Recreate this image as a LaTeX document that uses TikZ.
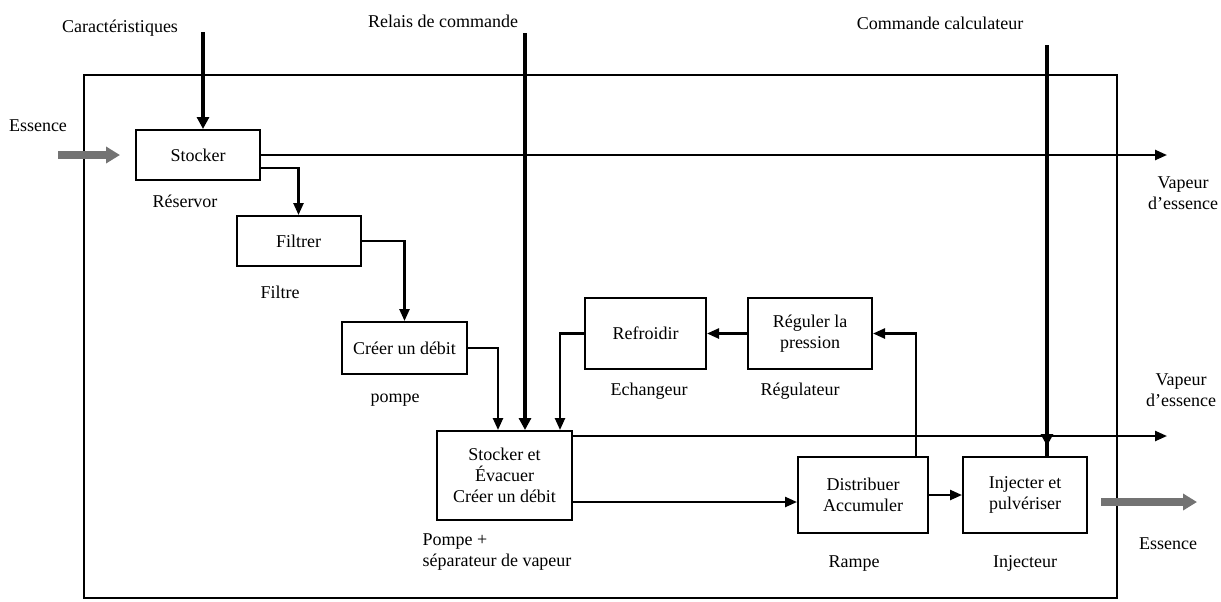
\documentclass[tikz,border=0pt]{standalone}
\usepackage{fontspec}
\setmainfont{Liberation Serif}
\usetikzlibrary{arrows.meta, positioning}

\begin{document}
\begin{tikzpicture}[
    x=0.5pt, y=-0.5pt,
    font=\fontsize{9}{10.5}\selectfont,
    block/.style = {rectangle, draw, line width=1pt, align=center, inner sep=2pt, minimum width=62pt, minimum height=25pt},
    caption/.style = {inner sep=0pt, text height=6.5pt, text depth=2pt},
    flow/.style = {line width=1.2pt, -{Triangle[length=6pt, width=5pt]}},
    command/.style = {line width=2pt, -{Triangle[length=6pt, width=6pt]}},
    fuel/.style = {line width=4pt, draw=black!55, -{Triangle[length=7pt, width=8pt]}}]

    \useasboundingbox (0,0) rectangle (1221,601);
    \draw[line width=1.1pt] (84,75) rectangle (1117,598);

    \node[block] (stk) at (198,155) {Stocker};
    \node[block] (fil) at (298.5,241) {Filtrer};
    \node[block, minimum width=62.5pt, minimum height=26pt] (cre) at (404.5,348) {Créer un débit};
    \node[block, minimum width=60.5pt, minimum height=35.5pt] (ref) at (645.5,333.5) {Refroidir};
    \node[block, minimum width=62pt, minimum height=35.5pt] (reg) at (810,333.5) {Réguler la\\pression};
    \node[block, minimum width=67.5pt, minimum height=44.5pt] (sep) at (504.5,475.5) {Stocker et\\Évacuer\\Créer un débit};
    \node[block, minimum width=65pt, minimum height=38pt] (dis) at (863,495) {Distribuer\\Accumuler};
    \node[block, minimum width=62pt, minimum height=38pt] (inj) at (1025,495) {Injecter et\\pulvériser};

    \node[caption, below=6.75pt of stk, xshift=-6.5pt] (stk-lbl) {Réservor};
    \node[caption, below=9.25pt of fil, xshift=-9.25pt] (fil-lbl) {Filtre};
    \node[caption, below=7.25pt of cre, xshift=-4.75pt] (cre-lbl) {pompe};
    \node[caption, below=6.25pt of ref, xshift=1.75pt] (ref-lbl) {Echangeur};
    \node[caption, below=6.25pt of reg, xshift=-5pt] (reg-lbl) {Régulateur};
    \node[inner sep=0pt, align=left, below=6pt of sep, xshift=-3.75pt] (sep-lbl) {Pompe +\\séparateur de vapeur};
    \node[caption, below=10.25pt of dis, xshift=-4.5pt] (dis-lbl) {Rampe};
    \node[caption, below=10.25pt of inj] (inj-lbl) {Injecteur};

    \node[caption] (car-lbl) at (120,28) {Caractéristiques};
    \node[caption] (rel-lbl) at (443,23) {Relais de commande};
    \node[caption] (cal-lbl) at (940,25) {Commande calculateur};
    \node[caption] (ein-lbl) at (38,127) {Essence};
    \node[caption] (eout-lbl) at (1168,545) {Essence};
    \node[inner sep=0pt, align=center] (vap1-lbl) at (1183,193) {Vapeur\\d’essence};
    \node[inner sep=0pt, align=center] (vap2-lbl) at (1181,390) {Vapeur\\d’essence};

    \coordinate (car) at (203,32);
    \coordinate (rel) at (525,33);
    \coordinate (cal) at (1047,45);
    \coordinate (vap1) at (1167,155);
    \coordinate (vap2) at (1167,437);
    \coordinate (ein) at (58,155);
    \coordinate (eout) at (1197,502);
    \coordinate (sep-out) at ([yshift=-3pt]sep.north east);

    % commandes
    \draw[command] (car) -- (car |- stk.north);
    \draw[command] (rel) -- (rel |- sep.north);
    \draw[command, -] (cal) -- (cal |- inj.north);
    \draw[command, shorten >=5pt] (cal) -- (cal |- inj.north);

    % circuit essence
    \draw[fuel] (ein) -- ([xshift=-7.5pt]stk.west);
    \draw[flow] (stk.east) -- (vap1);
    \draw[flow] ([yshift=-6.5pt]stk.east) -| (fil.north);
    \draw[flow] (fil.east) -| (cre.north);
    \draw[flow] (cre.east) -| ([xshift=-3.25pt]sep.north);
    \draw[flow] (ref.west) -| ([xshift=27.75pt]sep.north);
    \draw[flow] (reg.west) -- (ref.east);
    \draw[flow] ([xshift=26.5pt]dis.north) |- (reg.east);
    \draw[flow] (sep-out) -- (sep-out -| vap2);
    \draw[flow] ([yshift=-13.25pt]sep.east) -- ([yshift=-3.5pt]dis.west);
    \draw[flow] (dis.east) -- (inj.west);
    \draw[fuel] ([shift={(6.5pt,-3.5pt)}]inj.east) -- (eout);
\end{tikzpicture}
\end{document}
